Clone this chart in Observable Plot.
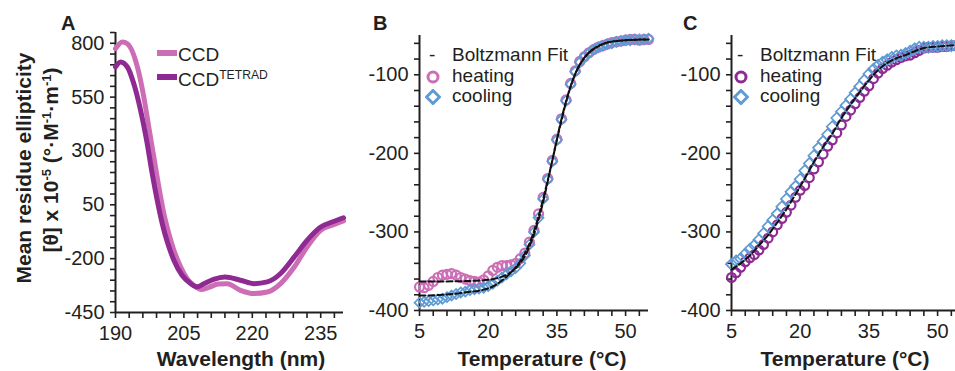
<!DOCTYPE html>
<html><head><meta charset="utf-8">
<script src="https://cdn.jsdelivr.net/npm/d3@7"></script>
<script src="https://cdn.jsdelivr.net/npm/@observablehq/plot@0.6"></script>
<style>
body{margin:0;background:#fff;font-family:"Liberation Sans",Arial,sans-serif;}
#wrap{position:relative;width:955px;height:371px;overflow:hidden;background:#fff;}
#wrap svg.plot, #wrap > svg{position:absolute;top:0;overflow:visible;}
.t{position:absolute;white-space:nowrap;color:#231f20;line-height:1;}
.b{font-weight:bold;}
.rot{transform:translate(-50%,-50%) rotate(-90deg);}
.lg{font-size:19px;transform:translateY(-50%);}
sup{font-size:62%;vertical-align:0;position:relative;top:-0.55em;}
.sw{position:absolute;height:6px;width:20px;}
.sym{position:absolute;}
</style>
</head><body>
<div id="wrap"></div>
<script>
// ---------- Panel A: CD spectra ----------
const ccdNm = [190, 191.5, 192.6, 194.8, 196.2, 197.3, 198.4, 199.5, 200.6, 201.7, 202.8, 204.3, 205.7, 207.6, 208.7, 210.5, 212.5, 214.5, 217.4, 220.4, 223.3, 226.2, 229.2, 232, 235, 237.5, 240];
const ccdVal = [775, 806, 798, 690, 551, 411, 272, 133, 9, -84, -161, -239, -293, -331, -343, -333, -318, -316, -347, -362, -355, -316, -239, -146, -68, -45, -25];
const tetNm = [190, 191.1, 192.6, 194, 195.5, 196.95, 198.05, 199.15, 200.25, 201.35, 202.8, 204.6, 206.5, 207.9, 209.5, 211.5, 214, 217.4, 220.4, 223.3, 226.2, 229.2, 232, 235, 237.5, 240];
const tetVal = [690, 713, 690, 613, 489, 334, 195, 71, -37, -122, -207, -277, -316, -331, -315, -296, -285, -300, -316, -308, -269, -192, -115, -53, -30, -10];
const aYLabels = [-450, -200, 50, 300, 550, 800];
const aXLabels = [190, 205, 220, 235];

// ---------- Panels B and C: thermal melts ----------
const temps = [5,6,7,8,9,10,11,12,13,14,15,16,17,18,19,20,21,22,23,24,25,26,27,28,29,30,31,32,33,34,35,36,37,38,39,40,41,42,43,44,45,46,47,48,49,50,51,52,53,54,55];
const heatB = [-370,-371,-368,-363,-358,-355,-354,-353,-355,-358,-360,-362,-363,-364,-361,-356,-349,-345,-343,-343,-342,-340,-334,-327,-313,-298,-277,-256,-232,-209,-182,-156,-132,-111,-95,-83,-77,-72,-68,-65,-63,-61,-59,-58,-57,-56,-55,-55,-56,-55,-55];
const coolB = [-390,-389,-388,-387,-386,-385,-383,-381,-379,-377,-376,-374,-373,-372,-371,-369,-366,-362,-358,-354,-350,-346,-340,-330,-316,-300,-282,-258,-233,-210,-183,-157,-133,-112,-96,-84,-77,-72,-68,-65,-63,-61,-60,-58,-57,-56,-56,-55,-55,-55,-54];
const fitBHeatT = [5,10,15,20,22,24,26,27,28,29,30,31,32,33,34,35,36,37,38,39,40,42,44,46,48,50,55];
const fitBHeatV = [-363,-363,-362.6,-361,-358.8,-354.6,-346.3,-339.6,-330.7,-318.7,-303.4,-284,-261.8,-236,-209,-182,-156.2,-133.6,-114.5,-99,-87.4,-71.7,-63.4,-59.2,-57,-56,-55];
const fitBCoolT = [5,10,15,20,22,24,26,27,28,29,30,31,32,33,34,35,36,37,38,39,40,42,44,46,48,50,55];
const fitBCoolV = [-381,-380,-377,-372,-366,-357,-345,-337,-327,-315,-299,-280,-258,-234,-209,-183,-158,-135,-115,-99,-87,-72,-64,-59,-57,-56,-55];
const heatC = [-358,-352,-345,-338,-333,-329,-323,-316,-308,-300,-291,-283,-275,-266,-256,-247,-241,-231,-220,-211,-201,-191,-183,-174,-164,-153,-145,-137,-129,-121,-114,-105,-98,-92,-88,-84,-81,-78,-76,-75,-72,-69,-66,-65,-65,-65,-64,-64,-63,-63,-63];
const coolC = [-341,-337,-334,-328,-322,-317,-310,-302,-293,-285,-277,-268,-258,-249,-242,-233,-222,-213,-203,-193,-185,-176,-166,-155,-147,-139,-131,-123,-115,-107,-99,-93,-88,-84,-81,-78,-76,-75,-73,-70,-67,-65,-65,-65,-64,-64,-63,-63,-63,-63,-62];
const fitCT = [5,7,9,11,13,15,17,19,21,23,25,27,29,31,33,35,37,39,41,43,45,47,50,55];
const fitCV = [-348,-340,-330,-317,-304,-288,-271,-252,-232,-211,-192,-175,-155,-138,-122,-107,-94,-85,-79,-75,-70,-66,-64,-62];
const tYLabels = [-400, -300, -200, -100];
const tXLabels = [5, 20, 35, 50];

const INK = "#231f20";
const PINK = "#cc6db6";
const PURPLE = "#8e2a92";
const BLUE = "#5e9bd4";
const FONT = "'Liberation Sans', Arial, sans-serif";

const pts = (xs, ys) => xs.map((x, i) => ({x, y: ys[i]}));
const fmt = labels => d => labels.includes(d) ? String(d) : "";

function axes(xDom, yDom, xTicks, yTicks, xLab, yLab) {
  return [
    Plot.axisY({ticks: yTicks, tickFormat: fmt(yLab), tickSize: 5, tickPadding: 6, strokeWidth: 1.6, label: null}),
    Plot.axisX({ticks: xTicks, tickFormat: fmt(xLab), tickSize: 6, tickPadding: 7, strokeWidth: 1.6, label: null}),
    Plot.ruleX([xDom[0]], {stroke: INK, strokeWidth: 2}),
    Plot.ruleY([yDom[0]], {stroke: INK, strokeWidth: 2})
  ];
}

const style = {fontSize: "20px", fontFamily: FONT, color: INK, overflow: "visible", background: "transparent"};

const wrap = document.getElementById("wrap");

// Panel A
const aX = [190, 240], aY = [-450, 850];
const plotA = Plot.plot({
  width: 350, height: 371, marginLeft: 115, marginRight: 7, marginTop: 32, marginBottom: 59,
  x: {domain: aX}, y: {domain: aY}, style,
  marks: [
    ...axes(aX, aY, d3.range(190, 241, 3), d3.range(-450, 851, 50), aXLabels, aYLabels),
    Plot.line(pts(ccdNm, ccdVal), {x: "x", y: "y", stroke: PINK, strokeWidth: 5, curve: "monotone-x"}),
    Plot.line(pts(tetNm, tetVal), {x: "x", y: "y", stroke: PURPLE, strokeWidth: 5, curve: "monotone-x"})
  ]
});
plotA.style.left = "0px";
wrap.appendChild(plotA);

// Panel B / C helper
function melt(left, mLeft, width, heat, cool, heatColor, fits, rHeat, rCool) {
  const tX = [5, 55], tY = [-400, -50];
  const p = Plot.plot({
    width, height: 371, marginLeft: mLeft, marginRight: width - mLeft - 229, marginTop: 35, marginBottom: 61,
    x: {domain: tX}, y: {domain: tY}, style,
    marks: [
      ...axes(tX, tY, d3.range(5, 56, 3), d3.range(-400, -49, 20), tXLabels, tYLabels),
      Plot.dot(pts(temps, heat), {x: "x", y: "y", r: rHeat, stroke: heatColor, strokeWidth: 2.2, fill: "none"}),
      Plot.dot(pts(temps, cool), {x: "x", y: "y", r: rCool, symbol: "diamond2", stroke: BLUE, strokeWidth: 1.7, fill: "none"}),
      ...fits.map(f => Plot.line(f, {x: "x", y: "y", stroke: "#111", strokeWidth: 2, strokeDasharray: "6,3", curve: "monotone-x"}))
    ]
  });
  p.style.left = left + "px";
  wrap.appendChild(p);
}
melt(345, 74, 305, heatB, coolB, PINK, [pts(fitBHeatT, fitBHeatV), pts(fitBCoolT, fitBCoolV)], 4.5, 4.5);
melt(660, 71, 300, heatC, coolC, PURPLE, [pts(fitCT, fitCV)], 4.4, 5);

// ---------- Text overlays ----------
function addText(html, css, cls) {
  const d = document.createElement("div");
  d.className = "t " + (cls || "");
  d.innerHTML = html;
  Object.assign(d.style, css);
  wrap.appendChild(d);
  return d;
}
// panel letters
addText("A", {left: "61px", top: "13px", fontSize: "20px"}, "b");
addText("B", {left: "373px", top: "13px", fontSize: "20px"}, "b");
addText("C", {left: "683px", top: "13px", fontSize: "20px"}, "b");
// y title A
addText("Mean residue ellipticity", {left: "23px", top: "168px", fontSize: "21px"}, "b rot");
addText("[θ] x 10<sup>-5</sup> (°·M<sup>-1</sup>·m<sup>-1</sup>)", {left: "50px", top: "160px", fontSize: "21px"}, "b rot");
// x titles
addText("Wavelength (nm)", {left: "241px", top: "358px", fontSize: "21px", transform: "translate(-50%,-50%)"}, "b");
addText("Temperature (°C)", {left: "542px", top: "358px", fontSize: "21px", transform: "translate(-50%,-50%)"}, "b");
addText("Temperature (°C)", {left: "845px", top: "358px", fontSize: "21px", transform: "translate(-50%,-50%)"}, "b");

// legend A
function swatch(x, y, color) {
  const s = document.createElement("div");
  s.className = "sw";
  Object.assign(s.style, {left: x + "px", top: (y - 3) + "px", background: color});
  wrap.appendChild(s);
}
swatch(157, 53, PINK);
addText("CCD", {left: "178px", top: "54px"}, "lg");
swatch(157, 77, PURPLE);
addText("CCD<sup style='font-size:64%'>TETRAD</sup>", {left: "178px", top: "79px"}, "lg");

// legends B, C
function sym(x, y, svg) {
  const s = document.createElement("div");
  s.className = "sym";
  s.innerHTML = svg;
  Object.assign(s.style, {left: (x - 8) + "px", top: (y - 8) + "px", width: "16px", height: "16px"});
  wrap.appendChild(s);
}
function meltLegend(x, tx, heatColor) {
  addText("-", {left: (x - 4) + "px", top: "54px"}, "lg");
  addText("Boltzmann Fit", {left: tx + "px", top: "54px"}, "lg");
  sym(x, 77, `<svg width="16" height="16"><circle cx="8" cy="8" r="5" fill="none" stroke="${heatColor}" stroke-width="3"/></svg>`);
  addText("heating", {left: tx + "px", top: "75px"}, "lg");
  sym(x, 97, `<svg width="16" height="16"><path d="M8 1.5 L14.5 8 L8 14.5 L1.5 8 Z" fill="none" stroke="${BLUE}" stroke-width="3"/></svg>`);
  addText("cooling", {left: tx + "px", top: "95px"}, "lg");
}
meltLegend(433, 452, PINK);
meltLegend(741, 760, PURPLE);
</script>
</body></html>
